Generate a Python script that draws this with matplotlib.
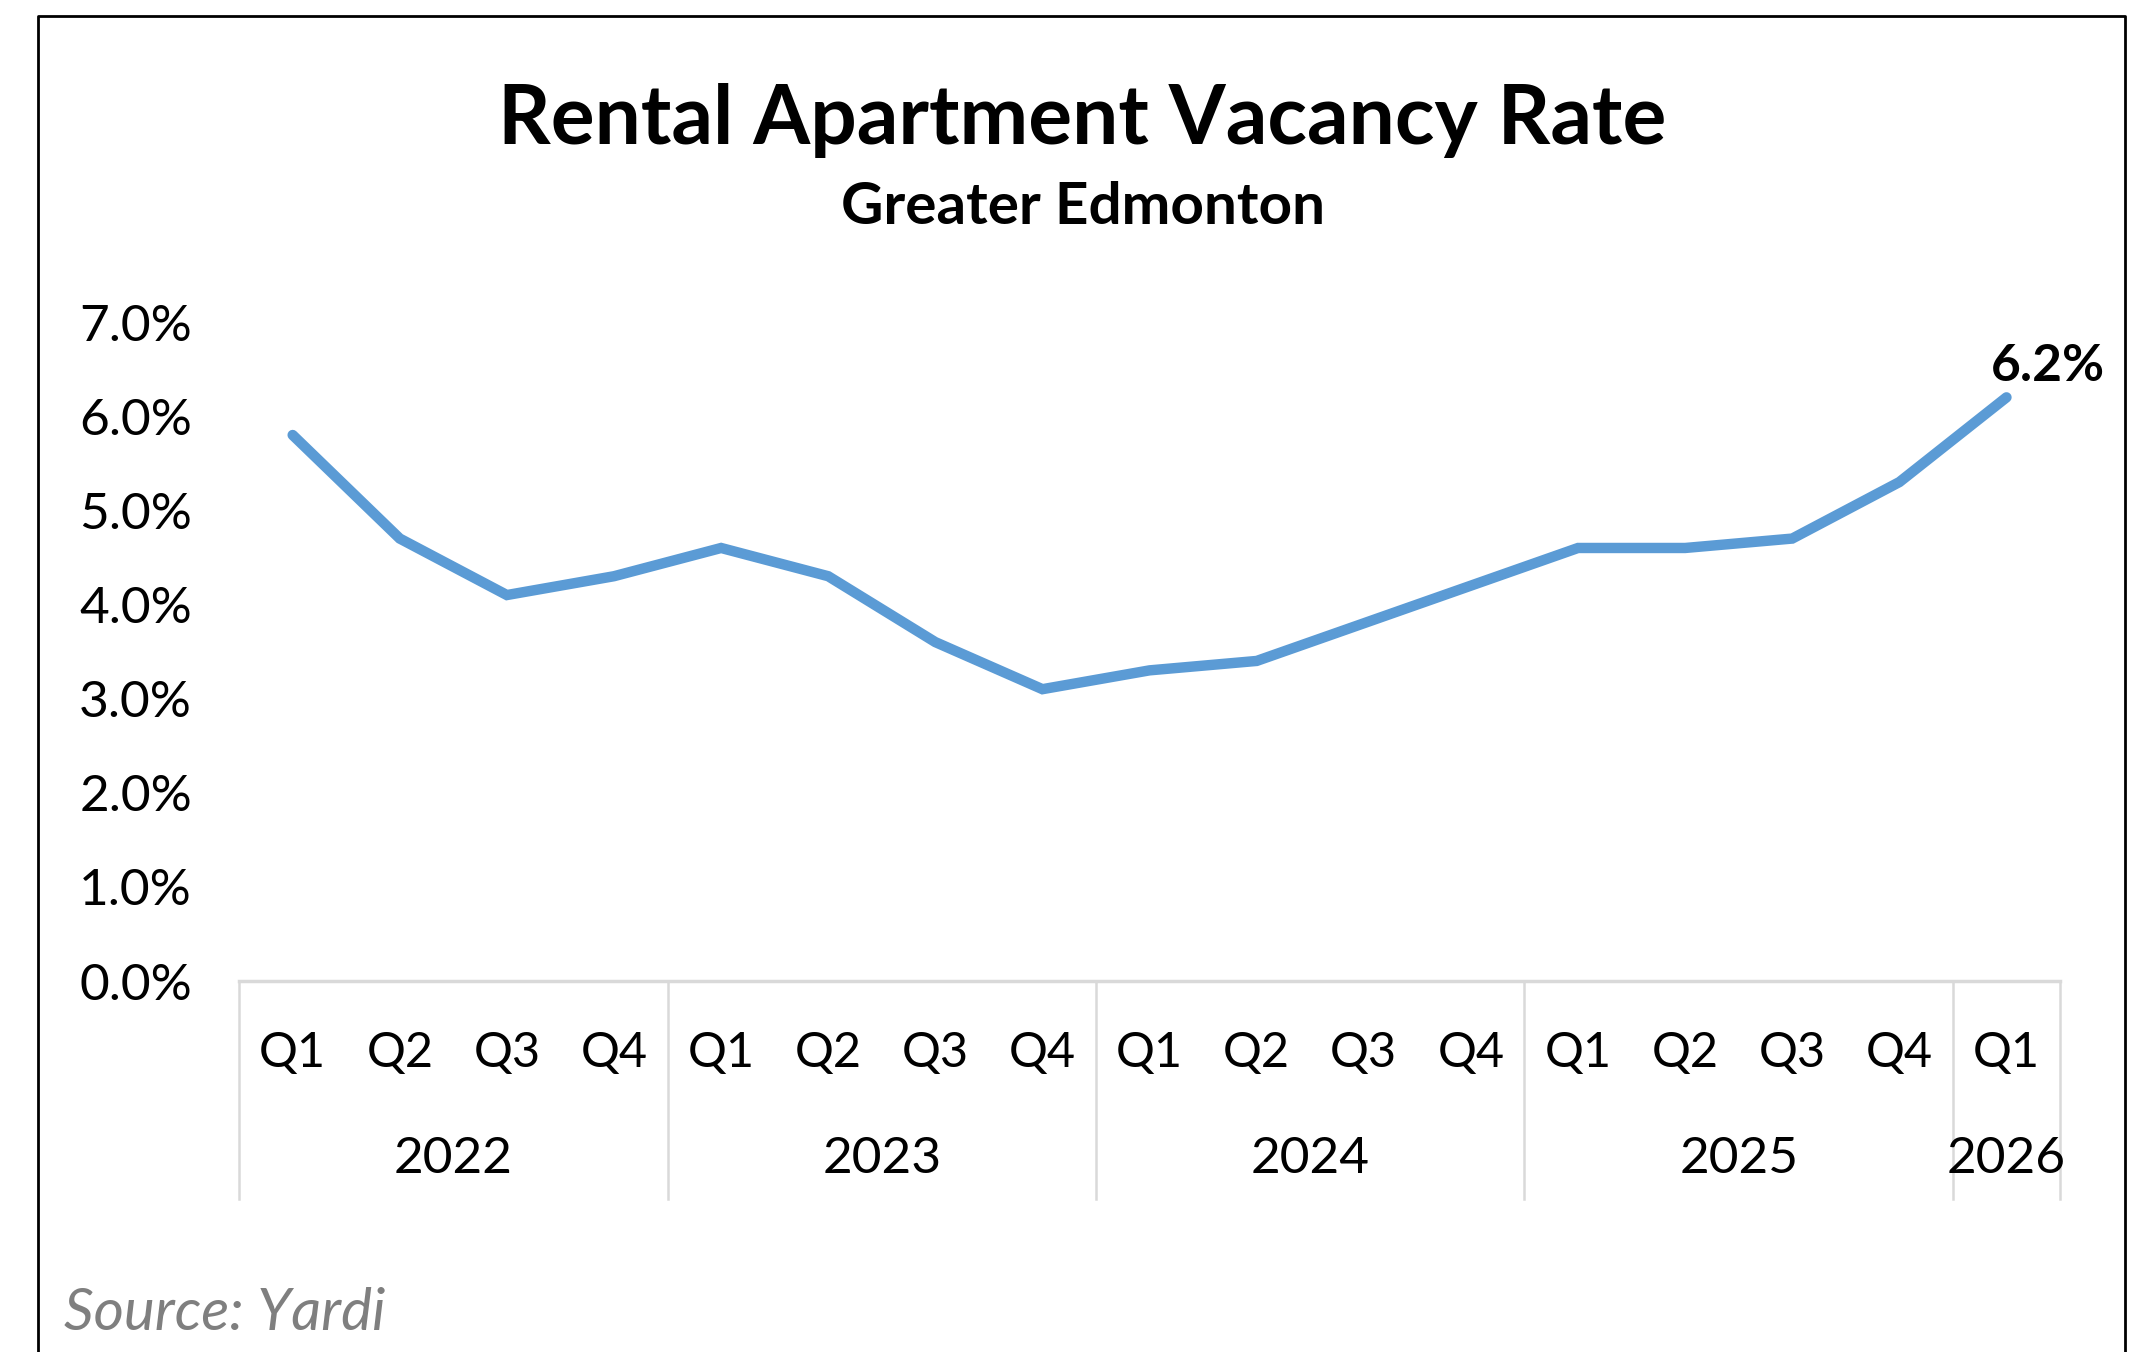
import matplotlib.pyplot as plt
import matplotlib.transforms as mtransforms
from matplotlib.lines import Line2D

plt.rcParams['font.family'] = ['Lato', 'DejaVu Sans']

quarters = ["Q1", "Q2", "Q3", "Q4", "Q1", "Q2", "Q3", "Q4", "Q1", "Q2", "Q3", "Q4",
            "Q1", "Q2", "Q3", "Q4", "Q1"]
years = ["2022", "2023", "2024", "2025", "2026"]
year_counts = [4, 4, 4, 4, 1]
vacancy = [5.8, 4.7, 4.1, 4.3, 4.6, 4.3, 3.6, 3.1, 3.3, 3.4, 3.8, 4.2,
           4.6, 4.6, 4.7, 5.3, 6.2]

line_color = "#5B9BD5"
grid_gray = "#D9D9D9"

fig = plt.figure(figsize=(21.31, 13.52), dpi=100)
ax = fig.add_axes([0.1122, 0.2744, 0.8545, 0.4874])

x = list(range(len(vacancy)))
ax.plot(x, vacancy, color=line_color, linewidth=7.5, solid_capstyle="round",
        solid_joinstyle="miter", clip_on=False)

ax.set_xlim(-0.5, len(vacancy) - 0.5)
ax.set_ylim(0, 7)
ax.set_yticks(range(0, 8))
ax.set_yticklabels([f"{v:.1f}%" for v in range(0, 8)], fontsize=37)
ax.tick_params(axis="y", length=0, pad=34)
ax.set_xticks([])

for s in ["top", "right", "left"]:
    ax.spines[s].set_visible(False)
ax.spines["bottom"].set_color(grid_gray)
ax.spines["bottom"].set_linewidth(2.5)

trans = mtransforms.blended_transform_factory(ax.transData, ax.transAxes)

# quarter labels
for i, q in enumerate(quarters):
    ax.text(i, -0.109, q, transform=trans, ha="center", va="center", fontsize=35)

# year labels and separators
start = 0
bounds = [-0.5]
for y, n in zip(years, year_counts):
    mid = start + (n - 1) / 2
    ax.text(mid, -0.270, y, transform=trans, ha="center", va="center", fontsize=37)
    start += n
    bounds.append(start - 0.5)
for b in bounds:
    ax.add_line(Line2D([b, b], [0, -0.331], transform=trans, color=grid_gray,
                       linewidth=1.8, clip_on=False))

# data label on the last point
ax.annotate(f"{vacancy[-1]:.1f}%", (x[-1], vacancy[-1]), xytext=(30, 22),
            textcoords="offset points", ha="center", va="center",
            fontsize=37, fontweight="bold")

fig.text(0.508, 1 - 120 / 1352, "Rental Apartment Vacancy Rate", ha="center",
         va="center", fontsize=59, fontweight="bold")
fig.text(0.508, 1 - 208 / 1352, "Greater Edmonton", ha="center", va="center",
         fontsize=42, fontweight="bold")
fig.text(64 / 2131, 1 - 1314 / 1352, "Source: Yardi", ha="left", va="center",
         fontsize=42, style="italic", color="#7F7F7F")

# outer frame
fig.add_artist(Line2D([0.0178, 0.0178, 0.9972, 0.9972], [-0.01, 0.988, 0.988, -0.01],
                      transform=fig.transFigure, color="black", linewidth=2))

plt.savefig("out.png", dpi=100)
